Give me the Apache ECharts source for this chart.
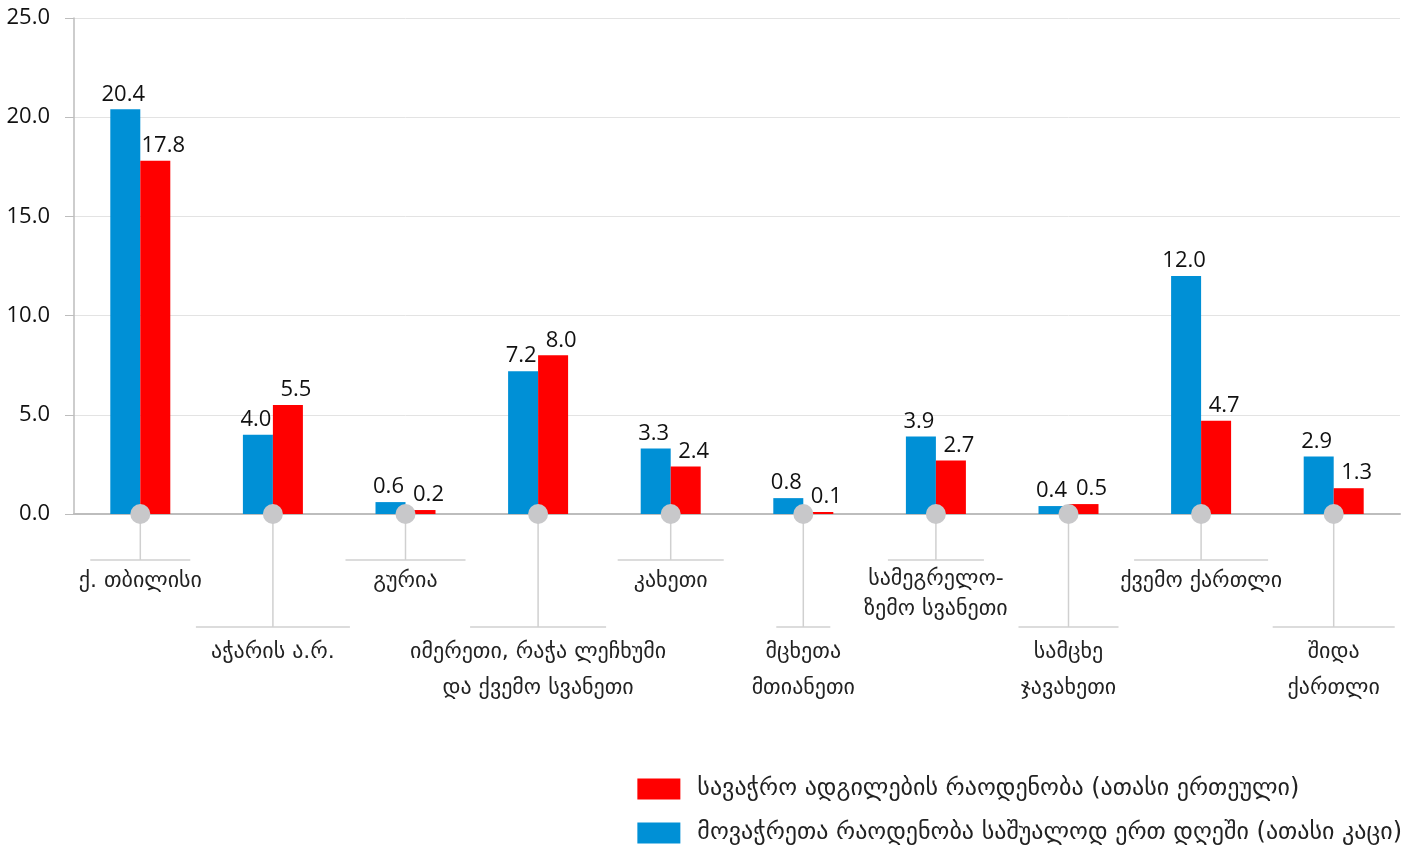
<!DOCTYPE html>
<html>
<head>
<meta charset="utf-8">
<script src="https://cdn.jsdelivr.net/npm/echarts@6/dist/echarts.min.js"></script>
<style>html,body{margin:0;padding:0;background:#fff}#c{width:1413px;height:850px}</style>
</head>
<body>
<div id="c"></div>
<script>
const categories = [
  'ქ. თბილისი',
  'აჭარის ა.რ.',
  'გურია',
  'იმერეთი, რაჭა ლეჩხუმი\nდა ქვემო სვანეთი',
  'კახეთი',
  'მცხეთა\nმთიანეთი',
  'სამეგრელო-\nზემო სვანეთი',
  'სამცხე\nჯავახეთი',
  'ქვემო ქართლი',
  'შიდა\nქართლი'
];
const passengers = [20.4, 4.0, 0.6, 7.2, 3.3, 0.8, 3.9, 0.4, 12.0, 2.9];
const tradePlaces = [17.8, 5.5, 0.2, 8.0, 2.4, 0.1, 2.7, 0.5, 4.7, 1.3];
const yTicks = [0, 5, 10, 15, 20, 25];
const seriesNames = [
  'სავაჭრო ადგილების რაოდენობა (ათასი ერთეული)',
  'მოვაჭრეთა რაოდენობა საშუალოდ ერთ დღეში (ათასი კაცი)'
];

const GEO = '"DejaVu Sans", sans-serif';
const NUM = '"Open Sans", "Liberation Sans", sans-serif';
const bracketHalf = [50, 77, 60, 68, 53, 27, 48, 50, 67, 61];

const chart = echarts.init(document.getElementById('c'));
chart.setOption({
  animation: false,
  grid: { left: 74, right: 13, top: 18, bottom: 336 },
  legend: {
    orient: 'vertical', right: 6, bottom: 0,
    data: [seriesNames[0], seriesNames[1]],
    itemWidth: 43, itemHeight: 21, itemGap: 20,
    icon: 'rect',
    textStyle: { fontFamily: GEO, fontSize: 24, color: '#222', padding: [0, 0, 0, 12] }
  },
  xAxis: {
    type: 'category', data: categories,
    axisLine: { lineStyle: { color: '#bdbdbd', width: 2 } },
    axisTick: { show: false },
    axisLabel: {
      interval: 0, margin: 50, fontFamily: GEO, fontSize: 22, color: '#222',
      lineHeight: 35.5, verticalAlign: 'top',
      formatter: function (v, i) {
        if (i === 6) return v.split('\n').map(s => '{s|' + s + '}').join('\n');
        return (i % 2 === 1) ? '\n\n' + v : v;
      },
      rich: { s: { fontFamily: GEO, fontSize: 22, color: '#222', lineHeight: 30 } }
    }
  },
  yAxis: {
    type: 'value', min: yTicks[0], max: yTicks[yTicks.length - 1], interval: 5,
    axisLine: { show: true, lineStyle: { color: '#bdbdbd', width: 1.5 } },
    axisTick: { show: true, length: 9, lineStyle: { color: '#bdbdbd' } },
    splitLine: { lineStyle: { color: '#e3e3e3', width: 1 } },
    axisLabel: { margin: 24, fontFamily: NUM, fontSize: 22, color: '#111',
      formatter: v => v.toFixed(1) }
  },
  series: [
    {
      name: seriesNames[1], type: 'bar', data: passengers, barWidth: 30, barGap: '0%',
      itemStyle: { color: '#0090d6' },
      label: { show: true, position: 'top', distance: 4, offset: [-2, 0],
        fontFamily: NUM, fontSize: 22, color: '#111', formatter: p => p.value.toFixed(1) }
    },
    {
      name: seriesNames[0], type: 'bar', data: tradePlaces, barWidth: 30,
      itemStyle: { color: '#ff0000' },
      label: { show: true, position: 'top', distance: 4, offset: [8, 0],
        fontFamily: NUM, fontSize: 22, color: '#111', formatter: p => p.value.toFixed(1) }
    },
    {
      type: 'custom', silent: true, clip: false, z: 1,
      data: categories.map((c, i) => [i, 0]),
      renderItem: function (params, api) {
        const idx = api.value(0);
        const p = api.coord([idx, 0]);
        const y2 = p[1] + (idx % 2 === 1 ? 113 : 46);
        const h = bracketHalf[idx];
        const st = { stroke: '#d0d0d0', lineWidth: 1.5 };
        return { type: 'group', children: [
          { type: 'line', shape: { x1: p[0], y1: p[1], x2: p[0], y2: y2 }, style: st },
          { type: 'line', shape: { x1: p[0] - h, y1: y2, x2: p[0] + h, y2: y2 }, style: st }
        ]};
      }
    },
    {
      type: 'scatter', silent: true, clip: false, z: 5,
      data: categories.map((c, i) => [i, 0]),
      symbol: 'circle', symbolSize: 20,
      itemStyle: { color: '#c8c8ca', opacity: 1 }
    }
  ]
});
</script>
</body>
</html>
